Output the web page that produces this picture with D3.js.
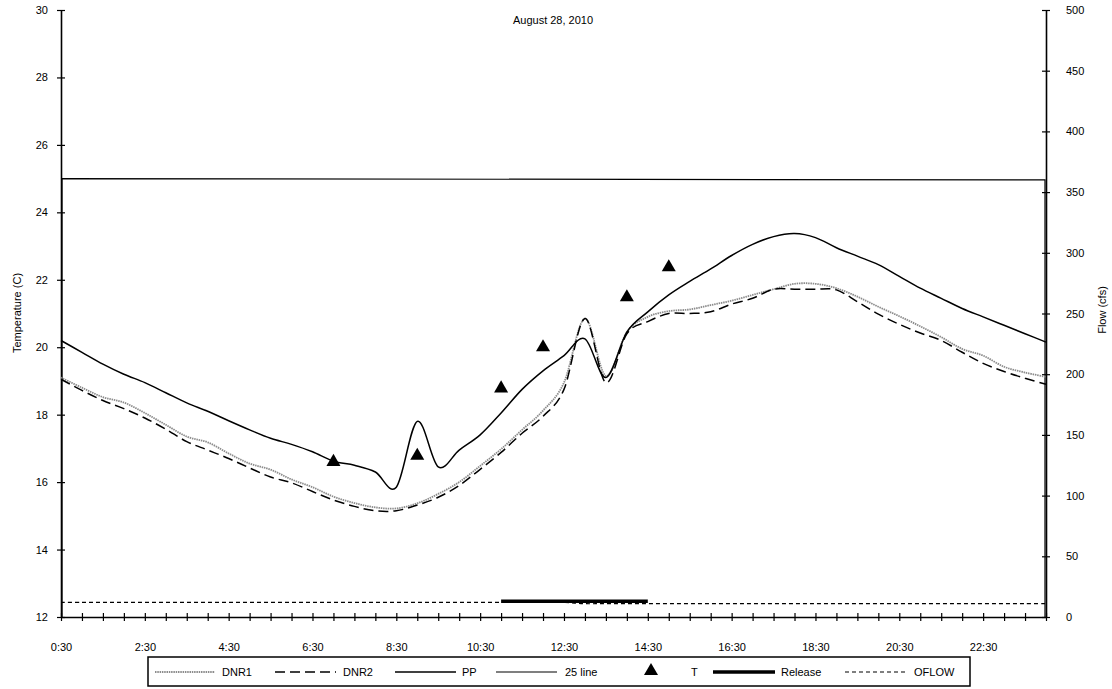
<!DOCTYPE html>
<html>
<head>
<meta charset="utf-8">
<script src="https://cdn.jsdelivr.net/npm/d3@7"></script>
<style>
  html, body { margin: 0; padding: 0; background: #fff; }
  svg { display: block; font-family: "Liberation Sans", Arial, sans-serif; }
</style>
</head>
<body>
<svg id="chart" width="1112" height="689"></svg>
<script>
// Half-hour readings, 0:30 through midnight
const times = ["0:30","1:00","1:30","2:00","2:30","3:00","3:30","4:00","4:30","5:00",
  "5:30","6:00","6:30","7:00","7:30","8:00","8:30","9:00","9:30","10:00",
  "10:30","11:00","11:30","12:00","12:30","13:00","13:30","14:00","14:30","15:00",
  "15:30","16:00","16:30","17:00","17:30","18:00","18:30","19:00","19:30","20:00",
  "20:30","21:00","21:30","22:00","22:30","23:00","23:30","0:00"];

const timeLabels = ["0:30","2:30","4:30","6:30","8:30","10:30","12:30","14:30","16:30","18:30","20:30","22:30"];

// Water temperature (C)
const dnr1 = [19.10,18.80,18.52,18.36,18.05,17.70,17.35,17.18,16.85,16.55,
  16.37,16.08,15.85,15.57,15.38,15.25,15.22,15.37,15.65,16.00,
  16.48,16.98,17.55,18.12,18.95,20.85,19.15,20.45,20.90,21.07,
  21.12,21.25,21.38,21.55,21.72,21.88,21.88,21.75,21.50,21.20,
  20.92,20.62,20.30,19.95,19.75,19.42,19.25,19.12];

const dnr2 = [19.05,18.72,18.42,18.18,17.90,17.57,17.20,16.95,16.70,16.42,
  16.15,15.98,15.72,15.47,15.28,15.15,15.15,15.32,15.55,15.90,
  16.38,16.88,17.45,17.95,18.75,20.85,18.95,20.40,20.76,21.00,
  21.00,21.05,21.28,21.45,21.72,21.72,21.72,21.70,21.35,20.98,
  20.68,20.42,20.20,19.85,19.52,19.28,19.08,18.90];

const pp = [20.20,19.85,19.50,19.20,18.95,18.65,18.35,18.10,17.82,17.55,
  17.30,17.12,16.90,16.62,16.50,16.30,15.85,17.80,16.45,16.95,
  17.40,18.05,18.75,19.30,19.75,20.25,19.10,20.45,21.05,21.55,
  21.95,22.32,22.72,23.05,23.28,23.37,23.25,22.95,22.70,22.45,
  22.10,21.75,21.45,21.15,20.90,20.65,20.40,20.15];

// Reference temperature
const refLine = 25;
const refFlow = 360;

// Spot temperature measurements
const tTimes = ["7:00","9:00","11:00","12:00","14:00","15:00"];
const tValues = [16.60,16.78,18.78,20.00,21.48,22.37];

// Flow (cfs)
const releaseTimes = ["11:00","11:30","12:00","12:30","13:00","13:30","14:00","14:30"];
const releaseFlow = [13,13,13,13,13,13,13,13];
const oflow = [12,12,12,12,12,12,12,12,12,12,
  12,12,12,12,12,12,12,12,12,12,
  12,12,12,12,12,11,11,11,11,11,
  11,11,11,11,11,11,11,11,11,11,
  11,11,11,11,11,11,11,11];

const tempTicks = [12,14,16,18,20,22,24,26,28,30];
const flowTicks = [0,50,100,150,200,250,300,350,400,450,500];

const svg = d3.select("#chart");
const plotL = 61, plotR = 1046, plotT = 10, plotB = 617;

const x = d3.scalePoint().domain(times).range([plotL, plotR]);
const yT = d3.scaleLinear().domain([12, 30]).range([plotB, plotT]);
const yF = d3.scaleLinear().domain([0, 500]).range([plotB, plotT]);

const smooth = d3.curveCardinal.tension(0);
const tempLine = d3.line().x((d, i) => x(times[i])).y(d => yT(d)).curve(smooth);

// Axes
const gL = svg.append("g").attr("transform", `translate(${plotL},0)`)
  .call(d3.axisLeft(yT).tickValues(tempTicks).tickFormat(d3.format("d")).tickSizeInner(4).tickSizeOuter(0).tickPadding(9));
const gR = svg.append("g").attr("transform", `translate(${plotR},0)`)
  .call(d3.axisRight(yF).tickValues(flowTicks).tickFormat(d3.format("d")).tickSizeInner(4).tickSizeOuter(0).tickPadding(16));
const gB = svg.append("g").attr("transform", `translate(0,${plotB})`)
  .call(d3.axisBottom(x).tickValues(times).tickFormat(d => timeLabels.includes(d) ? d : "").tickSizeInner(4).tickSizeOuter(0).tickPadding(22));

[gL, gR].forEach(g => {
  g.select(".domain").attr("stroke", "#000").attr("stroke-width", 1.6);
  g.selectAll(".tick line").attr("x1", -4).attr("x2", 4).attr("stroke", "#000").attr("stroke-width", 1.2);
  g.selectAll("text").attr("font-size", 11).attr("fill", "#000");
});
gB.select(".domain").attr("stroke", "#000").attr("stroke-width", 1.6);
gB.selectAll(".tick line").attr("y1", -4).attr("y2", 4).attr("stroke", "#000").attr("stroke-width", 1.2);
gB.selectAll("text").attr("font-size", 11).attr("fill", "#000");

// Title and axis titles
svg.append("text").attr("x", 553).attr("y", 24).attr("text-anchor", "middle")
  .attr("font-size", 11).text("August 28, 2010");
svg.append("text").attr("transform", "translate(21,313) rotate(-90)").attr("text-anchor", "middle")
  .attr("font-size", 11).text("Temperature (C)");
svg.append("text").attr("transform", "translate(1106,310) rotate(-90)").attr("text-anchor", "middle")
  .attr("font-size", 11).text("Flow (cfs)");

// 25 C reference line, closed down to the flow baseline at both ends
svg.append("path")
  .attr("d", d3.line()([[x(times[0]) + 1, yF(0)], [x(times[0]) + 1, yT(refLine)],
                        [x(times[times.length - 1]) - 1, yF(refFlow)], [x(times[times.length - 1]) - 1, yF(0)]]))
  .attr("fill", "none").attr("stroke", "#000").attr("stroke-width", 1.2);

// Flow series
svg.append("path").datum(oflow)
  .attr("d", d3.line().x((d, i) => x(times[i])).y(d => yF(d)).curve(smooth))
  .attr("fill", "none").attr("stroke", "#000").attr("stroke-width", 1.2).attr("stroke-dasharray", "4,3");
svg.append("path").datum(releaseFlow)
  .attr("d", d3.line().x((d, i) => x(releaseTimes[i])).y(d => yF(d)).curve(smooth))
  .attr("fill", "none").attr("stroke", "#000").attr("stroke-width", 3.5);

// Temperature series
svg.append("path").datum(dnr1).attr("d", tempLine)
  .attr("fill", "none").attr("stroke", "#8c8c8c").attr("stroke-width", 1.8).attr("stroke-dasharray", "1.5,0.8");
svg.append("path").datum(dnr2).attr("d", tempLine)
  .attr("fill", "none").attr("stroke", "#000").attr("stroke-width", 1.5).attr("stroke-dasharray", "10,5");
svg.append("path").datum(pp).attr("d", tempLine)
  .attr("fill", "none").attr("stroke", "#000").attr("stroke-width", 1.5);

const tri = d3.symbol().type(d3.symbolTriangle).size(85);
svg.append("g").selectAll("path").data(tValues).join("path")
  .attr("transform", (d, i) => `translate(${x(tTimes[i])},${yT(d)})`)
  .attr("d", tri).attr("fill", "#000");

// Legend
const lg = svg.append("g");
lg.append("rect").attr("x", 148).attr("y", 657).attr("width", 822).attr("height", 29)
  .attr("fill", "#fff").attr("stroke", "#000").attr("stroke-width", 1.5);
const ly = 672;
const items = [
  {name: "DNR1", x0: 155, x1: 215, tx: 222, stroke: "#8c8c8c", w: 1.8, dash: "1.5,0.8"},
  {name: "DNR2", x0: 275, x1: 336, tx: 343, stroke: "#000", w: 1.5, dash: "10,5"},
  {name: "PP", x0: 395, x1: 456, tx: 462, stroke: "#000", w: 1.5, dash: null},
  {name: "25 line", x0: 496, x1: 557, tx: 565, stroke: "#000", w: 1.2, dash: null},
  {name: "T", marker: true, mx: 651, tx: 691},
  {name: "Release", x0: 713, x1: 775, tx: 781, stroke: "#000", w: 3.5, dash: null},
  {name: "OFLOW", x0: 845, x1: 908, tx: 914, stroke: "#000", w: 1.2, dash: "4,3"}
];
items.forEach(it => {
  if (it.marker) {
    lg.append("path").attr("transform", `translate(${it.mx},${ly - 1})`).attr("d", tri).attr("fill", "#000");
  } else {
    const l = lg.append("line").attr("x1", it.x0).attr("x2", it.x1).attr("y1", ly).attr("y2", ly)
      .attr("stroke", it.stroke).attr("stroke-width", it.w);
    if (it.dash) l.attr("stroke-dasharray", it.dash);
  }
  lg.append("text").attr("x", it.tx).attr("y", ly + 4).attr("font-size", 11).text(it.name);
});
</script>
</body>
</html>
